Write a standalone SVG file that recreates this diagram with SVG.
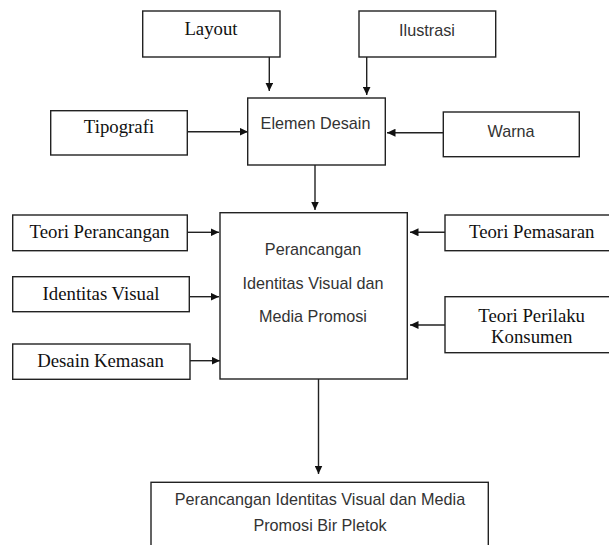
<svg xmlns="http://www.w3.org/2000/svg" width="609" height="545" viewBox="0 0 609 545">
<defs>
<marker id="ah" markerUnits="userSpaceOnUse" markerWidth="9" markerHeight="8" refX="8.5" refY="4" orient="auto">
<path d="M0,0 L8.5,4 L0,8 Z" fill="#111"/>
</marker>
<style>
.box{fill:#fff;stroke:#222;stroke-width:1.4}
.serif{font-family:"Liberation Serif","Times New Roman",serif;font-size:18.8px;fill:#111;text-anchor:middle}
.sans{font-family:"Liberation Sans",Arial,sans-serif;font-size:16.2px;fill:#333;text-anchor:middle}
.con{stroke:#222;stroke-width:1.4;fill:none;marker-end:url(#ah)}
</style>
</defs>
<rect width="609" height="545" fill="#fff"/>
<g id="connectors">
<line class="con" x1="269.3" y1="57" x2="269.3" y2="91"/>
<line class="con" x1="366.7" y1="57" x2="366.7" y2="95"/>
<line class="con" x1="187.3" y1="131.7" x2="248" y2="131.7"/>
<line class="con" x1="443.3" y1="132.7" x2="387" y2="132.7"/>
<line class="con" x1="315" y1="165" x2="315" y2="210"/>
<line class="con" x1="187.3" y1="232.3" x2="219" y2="232.3"/>
<line class="con" x1="189.3" y1="296.7" x2="219" y2="296.7"/>
<line class="con" x1="190" y1="360.7" x2="220" y2="360.7"/>
<line class="con" x1="445" y1="232.3" x2="410" y2="232.3"/>
<line class="con" x1="445" y1="325" x2="410" y2="325"/>
<line class="con" x1="318.5" y1="379" x2="318.5" y2="474"/>
</g>
<g id="layout"><rect class="box" x="142.7" y="11" width="137.3" height="46"/><text class="serif" x="211" y="35">Layout</text></g>
<g id="ilustrasi"><rect class="box" x="359" y="11" width="136.7" height="46"/><text class="sans" x="427" y="36">Ilustrasi</text></g>
<g id="tipografi"><rect class="box" x="50.7" y="110.7" width="136.6" height="44.3"/><text class="serif" x="119" y="132.5">Tipografi</text></g>
<g id="elemen"><rect class="box" x="247.7" y="98" width="137.6" height="67"/><text class="sans" x="315.5" y="129.3">Elemen Desain</text></g>
<g id="warna"><rect class="box" x="443.3" y="112" width="136" height="44.7"/><text class="sans" x="511" y="136.7">Warna</text></g>
<g id="teori-perancangan"><rect class="box" x="12.7" y="215" width="174.6" height="35.7"/><text class="serif" x="99.5" y="238.3">Teori Perancangan</text></g>
<g id="identitas-visual"><rect class="box" x="12.7" y="276.7" width="176.6" height="35"/><text class="serif" x="101" y="300">Identitas Visual</text></g>
<g id="desain-kemasan"><rect class="box" x="12.7" y="344" width="177.3" height="35.3"/><text class="serif" x="100.5" y="367.3">Desain Kemasan</text></g>
<g id="main"><rect class="box" x="220" y="212.7" width="187.3" height="166.3"/>
<text class="sans" x="313" y="255">Perancangan</text>
<text class="sans" x="313" y="289">Identitas Visual dan</text>
<text class="sans" x="313" y="321.7">Media Promosi</text></g>
<g id="teori-pemasaran"><rect class="box" x="445" y="215" width="170" height="35.7"/><text class="serif" x="531.7" y="238.3">Teori Pemasaran</text></g>
<g id="teori-perilaku"><rect class="box" x="445" y="296.7" width="170" height="56"/><text class="serif" x="531.7" y="321.7">Teori Perilaku</text><text class="serif" x="531.7" y="343.3">Konsumen</text></g>
<g id="output"><rect class="box" x="151" y="482.3" width="337.3" height="70"/>
<text class="sans" x="320" y="505">Perancangan Identitas Visual dan Media</text>
<text class="sans" x="320" y="530.7">Promosi Bir Pletok</text></g>
</svg>
